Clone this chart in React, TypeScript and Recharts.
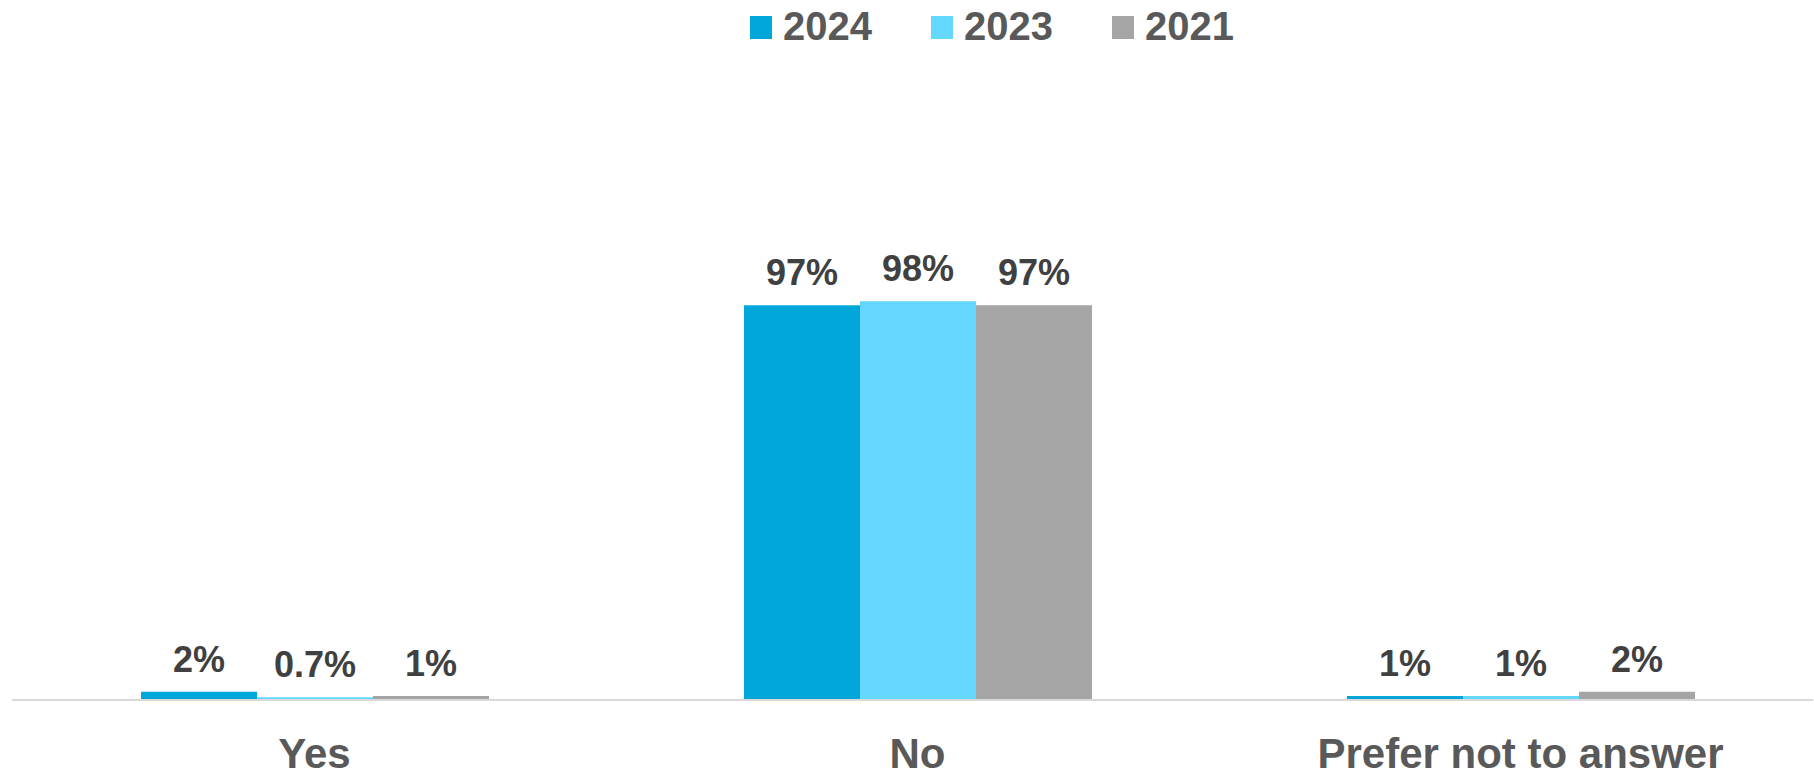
import React from 'react';
import { BarChart, Bar, XAxis, YAxis, Legend, LabelList } from 'recharts';

const categories = ['Yes', 'No', 'Prefer not to answer'];
const values2024 = [2, 97, 1];
const values2023 = [0.7, 98, 1];
const values2021 = [1, 97, 2];
const labels2024 = ['2%', '97%', '1%'];
const labels2023 = ['0.7%', '98%', '1%'];
const labels2021 = ['1%', '97%', '2%'];

const seriesNames = ['2024', '2023', '2021'];
const seriesColors = ['#02A7DA', '#63D7FC', '#A5A5A5'];

const data = categories.map((c, i) => ({
  category: c,
  v2024: values2024[i],
  v2023: values2023[i],
  v2021: values2021[i],
  l2024: labels2024[i],
  l2023: labels2023[i],
  l2021: labels2021[i],
}));

const FONT = '"Liberation Sans", Arial, sans-serif';

const CategoryTick = (props: any) => {
  const { x, y, payload } = props;
  return (
    <text x={x} y={y + 68} textAnchor="middle" fill="#595959" fontFamily={FONT} fontWeight="bold" fontSize={42}>
      {payload.value}
    </text>
  );
};

const makeLabel = (key: string) => (props: any) => {
  const { x, y, width, index } = props;
  const text = (data as any)[index][key];
  return (
    <text x={x + width / 2} y={y - 20} textAnchor="middle" fill="#404040" fontFamily={FONT} fontWeight="bold" fontSize={36}>
      {text}
    </text>
  );
};

const LegendContent = () => (
  <div style={{ display: 'flex', alignItems: 'center', paddingLeft: 750, height: 52, fontFamily: FONT }}>
    {seriesNames.map((n, i) => (
      <div key={n} style={{ display: 'flex', alignItems: 'center', marginRight: i < 2 ? 59 : 0 }}>
        <div style={{ width: 22, height: 23, background: seriesColors[i], marginRight: 11, marginTop: 3 }} />
        <span style={{ fontSize: 40, fontWeight: 'bold', color: '#595959', lineHeight: '52px' }}>{n}</span>
      </div>
    ))}
  </div>
);

export default function App() {
  return (
    <div style={{ position: 'absolute', left: 0, top: 0, width: 1814, height: 776, background: '#fff' }}>
      <BarChart
        width={1814}
        height={776}
        data={data}
        margin={{ top: 293, right: 1, bottom: 46, left: 12 }}
        barGap={0}
      >
        <XAxis
          dataKey="category"
          height={30}
          axisLine={{ stroke: '#D9D9D9', strokeWidth: 2 }}
          tickLine={false}
          tickSize={0}
          tickMargin={0}
          interval={0}
          padding={{ left: 1, right: -9 }}
          tick={<CategoryTick />}
        />
        <YAxis hide domain={[0, 100]} />
        <Legend
          layout="horizontal"
          verticalAlign="middle"
          align="center"
          wrapperStyle={{ top: 0, left: 0, width: 1814 }}
          content={<LegendContent />}
        />
        <Bar dataKey="v2024" name="2024" fill={seriesColors[0]} barSize={116} isAnimationActive={false}>
          <LabelList dataKey="l2024" content={makeLabel('l2024')} />
        </Bar>
        <Bar dataKey="v2023" name="2023" fill={seriesColors[1]} barSize={116} isAnimationActive={false}>
          <LabelList dataKey="l2023" content={makeLabel('l2023')} />
        </Bar>
        <Bar dataKey="v2021" name="2021" fill={seriesColors[2]} barSize={116} isAnimationActive={false}>
          <LabelList dataKey="l2021" content={makeLabel('l2021')} />
        </Bar>
      </BarChart>
    </div>
  );
}
